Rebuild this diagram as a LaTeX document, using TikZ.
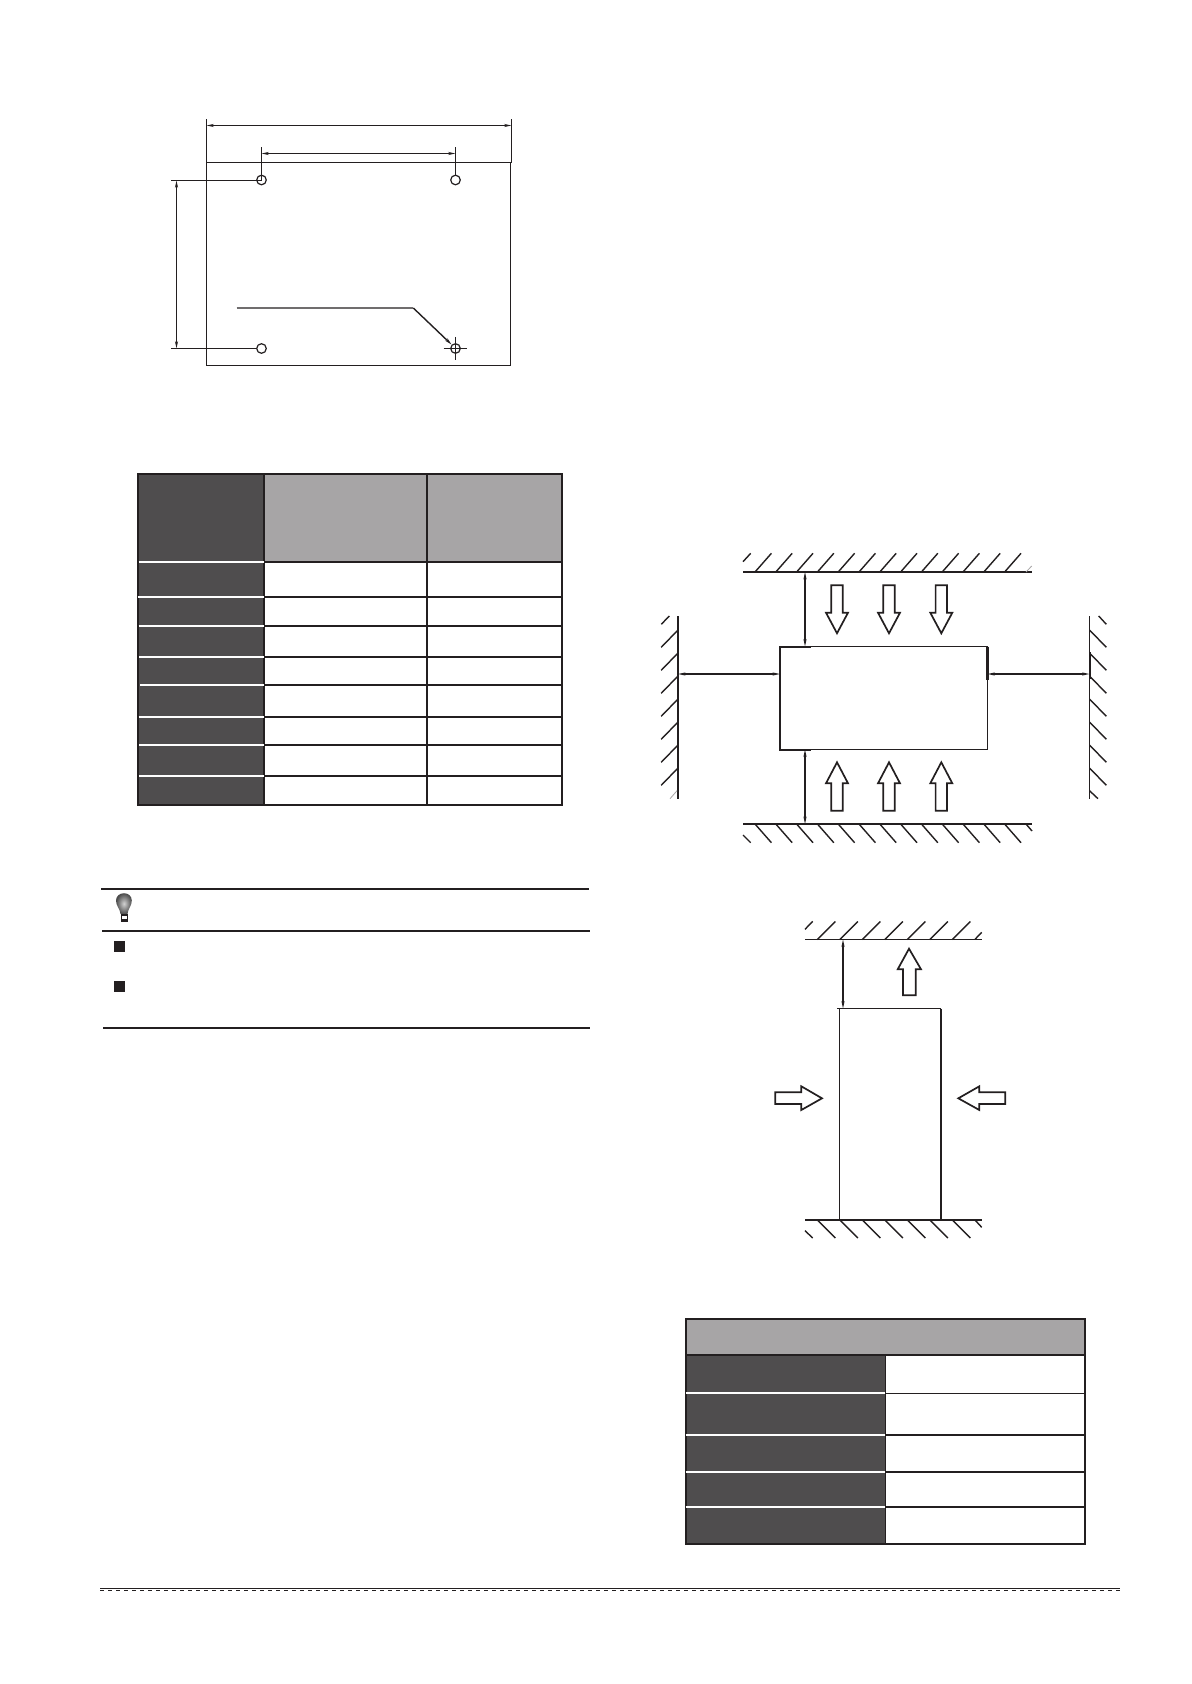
\documentclass[tikz,border=0pt]{standalone}
\usetikzlibrary{arrows.meta,shadings}
\definecolor{ink}{HTML}{231F20}
\definecolor{darkcell}{HTML}{4F4D4E}
\definecolor{greycell}{HTML}{A7A5A6}
\tikzset{
  thin line/.style={draw=ink,line width=0.7pt},
  thick line/.style={draw=ink,line width=1.05pt},
  wall/.style={draw=ink,line width=1.05pt},
  hatch/.style={draw=ink,line width=0.7pt},
  dimline/.style={draw=ink,line width=0.65pt,{Stealth[length=3.6pt,width=1.5pt]}-{Stealth[length=3.6pt,width=1.5pt]}},
  leader/.style={draw=ink,line width=0.7pt,-{Stealth[length=3.6pt,width=1.6pt]}},
  grid line/.style={draw=ink,line width=1pt},
  white rule/.style={draw=white,line width=0.85pt},
  rule/.style={draw=ink,line width=1pt},
  block/.style={draw=ink,line width=0.85pt,fill=white,line join=miter},
  hole/.style={draw=ink,line width=0.6pt},
}
\begin{document}
\begin{tikzpicture}[x=0.5pt,y=-0.5pt]
\useasboundingbox (0,0) rectangle (1191,1684);
\fill[white] (0,0) rectangle (1191,1684);

%% ---- Figure 1: mounting holes ----
\coordinate (pTL) at (206.5,162.5);
\coordinate (pTR) at (510.5,162.5);
\coordinate (pBL) at (206.5,365.5);
\coordinate (pBR) at (510.5,365.5);
\draw[thin line] (pTL) -- (511.5,162.5);
\draw[thin line] (pTR) -- (pBR) -- (pBL) -- (pTL);
\draw[thin line] (pTL) -- (206.5,119.3);
\draw[thin line] (511.5,163) -- (511.5,119.3);
\draw[dimline] (206.5,125.5) -- (511.5,125.5);
\coordinate (h1) at (261.5,180);
\coordinate (h2) at (455.5,180);
\coordinate (h3) at (261.5,348.5);
\coordinate (h4) at (455.5,348.5);
\foreach \h in {h1,h2,h3,h4} \draw[hole] (\h) circle (4.8);
\draw[thin line] (h1) -- (261.5,147.3);
\draw[thin line] (455.5,175.2) -- (455.5,147.3);
\draw[dimline] (261.5,153.5) -- (455.5,153.5);
\draw[thin line] (171,180.5) -- (261.5,180.5);
\draw[thin line] (171,348.5) -- (256.7,348.5);
\draw[dimline] (176.5,180.5) -- (176.5,348.5);
\draw[thin line] (443.7,348.5) -- (467,348.5);
\draw[thin line] (455.5,337) -- (455.5,360);
\draw[draw=ink!65,line width=0.8pt] (236.7,308) -- (413.3,308);
\draw[leader] (413.3,308) -- (451.5,344.5);

%% ---- Table 1 ----
\fill[darkcell] (137.7,473.7) rectangle (264,805);
\fill[greycell] (264,473.7) rectangle (562.3,562);
\foreach \y in {562,596.7,625.7,657,685,717,745,776}
  \draw[grid line] (264,\y) -- (562.3,\y);
\draw[grid line] (137.7,473.7) rectangle (562.3,805);
\draw[grid line] (264,473.7) -- (264,805);
\draw[grid line] (427,473.7) -- (427,805);
\foreach \y/\a in {562/138.5,596.7/137.7,625.7/138.5,657/139,685/140,717/138.5,745/139,776/139}
  \draw[white rule] (\a,\y) -- (264,\y);

%% ---- Tip block ----
\draw[rule] (101.3,889) -- (588.5,889);
\draw[rule] (102,931) -- (589.5,931);
\draw[rule] (103,1027.7) -- (589.5,1027.7);
\fill[ink] (114,941) rectangle (125,952);
\fill[ink] (114,981.3) rectangle (125,992);
% bulb
\shade[inner color=gray!35,outer color=black!70]
  (120.5,914) .. controls (120,908.5) and (116,906) .. (116,900.5)
  .. controls (116,896) and (119.8,893.2) .. (124,893.2)
  .. controls (128.2,893.2) and (131.8,896) .. (131.8,900.5)
  .. controls (131.8,906) and (128,908.5) .. (127.5,914) -- cycle;
\fill[ink] (120.5,914) rectangle (127.5,921.5);
\fill[white] (121.5,916.3) rectangle (126.5,918.5);

%% ---- Figure 2: clearances, horizontal ----
\coordinate (wT1) at (743,572);
\coordinate (wT2) at (1031.7,572);
\coordinate (wB1) at (743,824);
\coordinate (wB2) at (1031.7,824);
\coordinate (wL1) at (678,616);
\coordinate (wL2) at (678,798.7);
\coordinate (wR1) at (1089.5,616);
\coordinate (wR2) at (1089.5,798.7);
\draw[wall] (wT1) -- (wT2);
\draw[wall] (wB1) -- (wB2);
\draw[wall] (wL1) -- (wL2);
\draw[thin line] (wR1) -- (wR2);
\draw[thick line] (1090,652) -- (1090,679);
% top and bottom hatches
\foreach \k in {0,...,12}{
  \pgfmathsetmacro{\xa}{755+20.8*\k}
  \draw[hatch] (\xa,572) -- ++(16.4,-18.7);
  \draw[hatch] (\xa,824) -- ++(16.4,18.7);
}
\draw[hatch] (743,561.7) -- (750.7,553.3);
\draw[hatch] (743,835) -- (750.7,842.7);
\draw[draw=ink!40,line width=0.4pt] (1026,572) -- (1031.7,566) ;
\draw[hatch] (1026,824) -- (1032,831);
% left and right hatches
\foreach \k in {0,...,6}{
  \pgfmathsetmacro{\ya}{630+23*\k}
  \draw[hatch] (678,\ya) -- ++(-16.8,17.3);
  \draw[hatch] (1089.5,\ya) -- ++(16.8,17.3);
}
\draw[hatch] (661.3,624.3) -- (669.3,616);
\draw[hatch] (1098.7,616) -- (1106.3,624.3);
\draw[hatch] (1089.5,790.7) -- (1098,798.7);
\draw[draw=ink!40,line width=0.4pt] (670,798.7) -- (677,790.7);
% box
\coordinate (bTL) at (780,646.5);
\coordinate (bTR) at (987.5,646.5);
\coordinate (bBL) at (780,749.5);
\coordinate (bBR) at (987.5,749.5);
\draw[thin line] (bTL) -- (bTR) -- (bBR) -- (bBL) -- cycle;
\draw[thick line] (810.7,646.7) -- (780,646.7) -- (780,749.7) -- (810.7,749.7);
\draw[thick line] (bTR) -- (987.5,679.5);
\draw[dimline] (805,572) -- (805,646.5);
\draw[dimline] (805,749.5) -- (805,824);
\draw[dimline,line width=0.85pt] (678,674) -- (780,674);
\draw[dimline,line width=0.85pt] (987.5,674) -- (1089.5,674);
% block arrows
\foreach \c in {837,889,941.3}{
  \draw[block] (\c-5.7,585.3) -- (\c+5.7,585.3) -- (\c+5.7,612.7) -- (\c+11,612.7)
     -- (\c,633.3) -- (\c-11,612.7) -- (\c-5.7,612.7) -- cycle;
  \draw[block] (\c-5.7,810.7) -- (\c+5.7,810.7) -- (\c+5.7,783.3) -- (\c+11,783.3)
     -- (\c,762.3) -- (\c-11,783.3) -- (\c-5.7,783.3) -- cycle;
}

%% ---- Figure 3: clearances, vertical ----
\coordinate (vT1) at (805,939.5);
\coordinate (vT2) at (981.7,939.5);
\coordinate (vB1) at (805,1220);
\coordinate (vB2) at (981.7,1220);
\draw[thin line] (vT1) -- (vT2);
\draw[wall] (vB1) -- (vB2);
\foreach \k in {0,...,6}{
  \pgfmathsetmacro{\xb}{817.3+22.5*\k}
  \draw[hatch] (\xb,939.5) -- ++(18,-18);
  \draw[hatch] (\xb,1220) -- ++(18,18);
}
\draw[hatch] (805,929.3) -- (812.7,921.3);
\draw[hatch] (805,1230.7) -- (812.7,1238);
\draw[hatch] (975,939.3) -- (981.7,932.3);
\draw[hatch] (975,1220) -- (981.7,1227.3);
\coordinate (uTL) at (839.5,1008.5);
\coordinate (uTR) at (941,1008.5);
\coordinate (uBL) at (839.5,1220);
\coordinate (uBR) at (941,1220);
\draw[thin line] (837.3,1008.5) -- (uTR);
\draw[thin line] (uTL) -- (uBL);
\draw[thick line] (uTR) -- (uBR);
\draw[dimline,line width=0.8pt] (843,939.5) -- (843,1008.5);
\draw[block] (903,995.3) -- (903,969.3) -- (897.7,969.3) -- (909,948.7)
   -- (921,969.3) -- (915.7,969.3) -- (915.7,995.3) -- cycle;
\draw[block] (775.3,1092.3) -- (801.3,1092.3) -- (801.3,1086.3) -- (822,1098.3)
   -- (801.3,1110) -- (801.3,1104) -- (775.3,1104) -- cycle;
\draw[block] (1005.3,1092.3) -- (979.3,1092.3) -- (979.3,1086.3) -- (958.3,1098.3)
   -- (979.3,1110) -- (979.3,1104) -- (1005.3,1104) -- cycle;

%% ---- Table 2 ----
\fill[greycell] (685.8,1318.7) rectangle (1084.8,1354.7);
\fill[darkcell] (685.8,1354.7) rectangle (885.5,1544);
\foreach \y in {1354.7,1393.3,1435,1471.7,1506.7}
  \draw[grid line,line width=0.8pt] (885.5,\y) -- (1084.8,\y);
\draw[grid line] (685.8,1354.7) -- (1084.8,1354.7);
\draw[grid line] (685.8,1318.7) rectangle (1084.8,1544);
\draw[grid line,line width=0.8pt] (885.5,1354.7) -- (885.5,1544);
\foreach \y in {1393.3,1435,1471.7,1506.7}
  \draw[white rule] (685.5,\y) -- (885,\y);

%% ---- Footer ----
\coordinate (fL) at (100,1588.5);
\coordinate (fR) at (1120,1588.5);
\draw[draw=ink,line width=0.7pt] (fL) -- (fR);
\draw[draw=ink,line width=0.7pt,dash pattern=on 2pt off 2pt] (100,1590.6) -- (1120,1590.6);
\end{tikzpicture}
\end{document}
